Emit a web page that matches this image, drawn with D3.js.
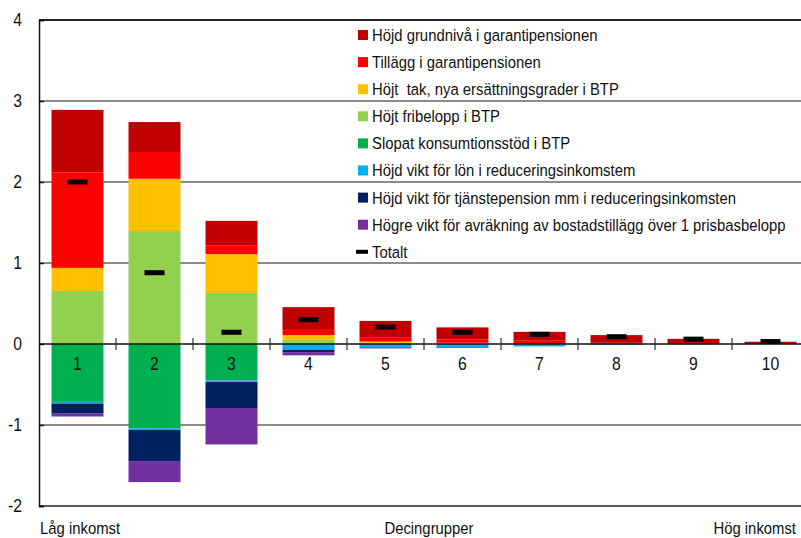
<!DOCTYPE html>
<html><head><meta charset="utf-8">
<script src="https://cdn.jsdelivr.net/npm/d3@7"></script>
<style>
html,body{margin:0;padding:0;background:#fff;overflow:hidden;}
svg text{font-family:"Liberation Sans",Arial,sans-serif;fill:#111;}
</style></head>
<body><svg id="c" width="801" height="538"></svg>
<script>
const categories = ["1","2","3","4","5","6","7","8","9","10"];
const grundniva  = [0.77, 0.37, 0.30, 0.27, 0.20, 0.15, 0.11, 0.095, 0.06, 0.028];
const tillagg    = [1.18, 0.33, 0.11, 0.075, 0.055, 0.04, 0.04, 0.01, 0.004, 0];
const hojtTak    = [0.285, 0.645, 0.48, 0.06, 0.02, 0.01, 0, 0.005, 0, 0];
const fribelopp  = [0.655, 1.395, 0.63, 0.05, 0.01, 0.005, 0, 0, 0, 0];
const konsumtion = [-0.715, -1.04, -0.45, -0.01, 0, 0, 0, 0, 0, 0];
const lon        = [-0.02, -0.02, -0.02, -0.06, -0.04, -0.04, -0.03, -0.01, -0.005, 0];
const tjanste    = [-0.125, -0.385, -0.32, -0.03, -0.005, -0.005, 0, 0, 0, 0];
const bostad     = [-0.035, -0.26, -0.45, -0.04, -0.01, -0.005, 0, 0, 0, 0];
const totalt     = [2.0, 0.88, 0.145, 0.30, 0.21, 0.145, 0.12, 0.09, 0.06, 0.03];
const yTicks = [-2, -1, 0, 1, 2, 3, 4];

const series = [
  {key:"fribelopp", name:"Höjt fribelopp i BTP", color:"#92D050", values:fribelopp},
  {key:"hojtTak", name:"Höjt  tak, nya ersättningsgrader i BTP", color:"#FFC000", values:hojtTak},
  {key:"tillagg", name:"Tillägg i garantipensionen", color:"#FF0000", values:tillagg},
  {key:"grundniva", name:"Höjd grundnivå i garantipensionen", color:"#C00000", values:grundniva},
  {key:"konsumtion", name:"Slopat konsumtionsstöd i BTP", color:"#00B050", values:konsumtion},
  {key:"lon", name:"Höjd vikt för lön i reduceringsinkomstem", color:"#00B0F0", values:lon},
  {key:"tjanste", name:"Höjd vikt för tjänstepension mm i reduceringsinkomsten", color:"#002060", values:tjanste},
  {key:"bostad", name:"Högre vikt för avräkning av bostadstillägg över 1 prisbasbelopp", color:"#7030A0", values:bostad}
];
const legendOrder = ["grundniva","tillagg","hojtTak","fribelopp","konsumtion","lon","tjanste","bostad"];

const table = categories.map((c,i)=>{const o={cat:c}; series.forEach(s=>o[s.key]=s.values[i]); return o;});

const svg = d3.select("#c");
const x = d3.scaleBand().domain(categories).range([39, 809]).paddingInner(0.325).paddingOuter(0.1625);
const y = d3.scaleLinear().domain([-2, 4]).range([506, 20]);

// horizontal compression factor to imitate a condensed face
const probe = svg.append("text").attr("font-size",17).attr("xml:space","preserve")
  .text("Högre vikt för avräkning av bostadstillägg över 1 prisbasbelopp");
const K = 414 / probe.node().getComputedTextLength();
probe.remove();
function narrow(sel){
  sel.each(function(){
    const t = d3.select(this);
    const x0 = +t.attr("x") || 0;
    t.attr("x", x0 / K).attr("transform", `scale(${K},1)`);
  });
}

// gridlines
svg.append("g").selectAll("line").data([-1,1,2,3]).join("line")
  .attr("x1",39).attr("x2",801).attr("y1",d=>y(d)).attr("y2",d=>y(d))
  .attr("stroke","#8c8c8c").attr("stroke-width",2);
svg.append("line").attr("x1",39).attr("x2",801).attr("y1",y(4)).attr("y2",y(4)).attr("stroke","#222").attr("stroke-width",2);
svg.append("line").attr("x1",39).attr("x2",801).attr("y1",y(-2)).attr("y2",y(-2)).attr("stroke","#222").attr("stroke-width",1.5);

// bars
const stack = d3.stack().keys(series.map(s=>s.key)).offset(d3.stackOffsetDiverging);
const stacked = stack(table);
const colorOf = Object.fromEntries(series.map(s=>[s.key,s.color]));
svg.append("g").selectAll("g").data(stacked).join("g")
  .attr("fill",d=>colorOf[d.key])
  .selectAll("rect").data(d=>d).join("rect")
  .attr("x",d=>x(d.data.cat))
  .attr("width",x.bandwidth())
  .attr("y",d=>y(Math.max(d[0],d[1])))
  .attr("height",d=>Math.abs(y(d[0])-y(d[1])));

// y axis
const yAxis = d3.axisLeft(y).tickValues(yTicks).tickSize(-5).tickPadding(17).tickFormat(d=>String(d));
const ga = svg.append("g").attr("transform","translate(39,0)").call(yAxis);
ga.select(".domain").attr("stroke","#111").attr("stroke-width",1.5);
ga.selectAll(".tick line").attr("stroke","#111").attr("stroke-width",1.5);
ga.selectAll(".tick text").attr("font-size",18).attr("font-family",null).call(narrow);

// zero line with category ticks
const xAxis = d3.axisBottom(x).tickSize(0).tickPadding(13);
const gx = svg.append("g").attr("transform",`translate(0,${y(0)})`).call(xAxis);
gx.select(".domain").remove();
gx.selectAll(".tick text").attr("font-size",18).attr("font-family",null).call(narrow);
svg.append("line").attr("x1",39).attr("x2",801).attr("y1",y(0)).attr("y2",y(0)).attr("stroke","#111").attr("stroke-width",1.5);
const step = x.step();
svg.append("g").selectAll("line").data(categories.slice(0,-1)).join("line")
  .attr("x1",d=>x(d)+x.bandwidth()+(step-x.bandwidth())/2).attr("x2",d=>x(d)+x.bandwidth()+(step-x.bandwidth())/2)
  .attr("y1",y(0)-6).attr("y2",y(0)+6).attr("stroke","#333").attr("stroke-width",1.2);

// totalt markers
svg.append("g").selectAll("line").data(totalt).join("line")
  .attr("x1",(d,i)=>x(categories[i])+x.bandwidth()/2-10)
  .attr("x2",(d,i)=>x(categories[i])+x.bandwidth()/2+10)
  .attr("y1",d=>y(d)).attr("y2",d=>y(d))
  .attr("stroke","#000").attr("stroke-width",5);

// legend
const lg = svg.append("g");
const rows = legendOrder.map(k=>series.find(s=>s.key===k)).concat([{name:"Totalt", line:true}]);
rows.forEach((r,i)=>{
  const cy = 35 + i*27.1;
  if(r.line){
    lg.append("line").attr("x1",356).attr("x2",368).attr("y1",cy).attr("y2",cy).attr("stroke","#000").attr("stroke-width",4);
  } else {
    lg.append("rect").attr("x",358).attr("y",cy-5).attr("width",10).attr("height",10).attr("fill",r.color);
  }
  lg.append("text").attr("x",372).attr("y",cy).attr("dy","0.35em").attr("font-size",17)
    .attr("xml:space","preserve").text(r.name).call(narrow);
});

// bottom labels
svg.append("text").attr("x",40).attr("y",534).attr("font-size",17).text("Låg inkomst").call(narrow);
svg.append("text").attr("x",429).attr("y",534).attr("font-size",17).attr("text-anchor","middle").text("Decingrupper").call(narrow);
svg.append("text").attr("x",796).attr("y",534).attr("font-size",17).attr("text-anchor","end").text("Hög inkomst").call(narrow);
</script></body></html>
